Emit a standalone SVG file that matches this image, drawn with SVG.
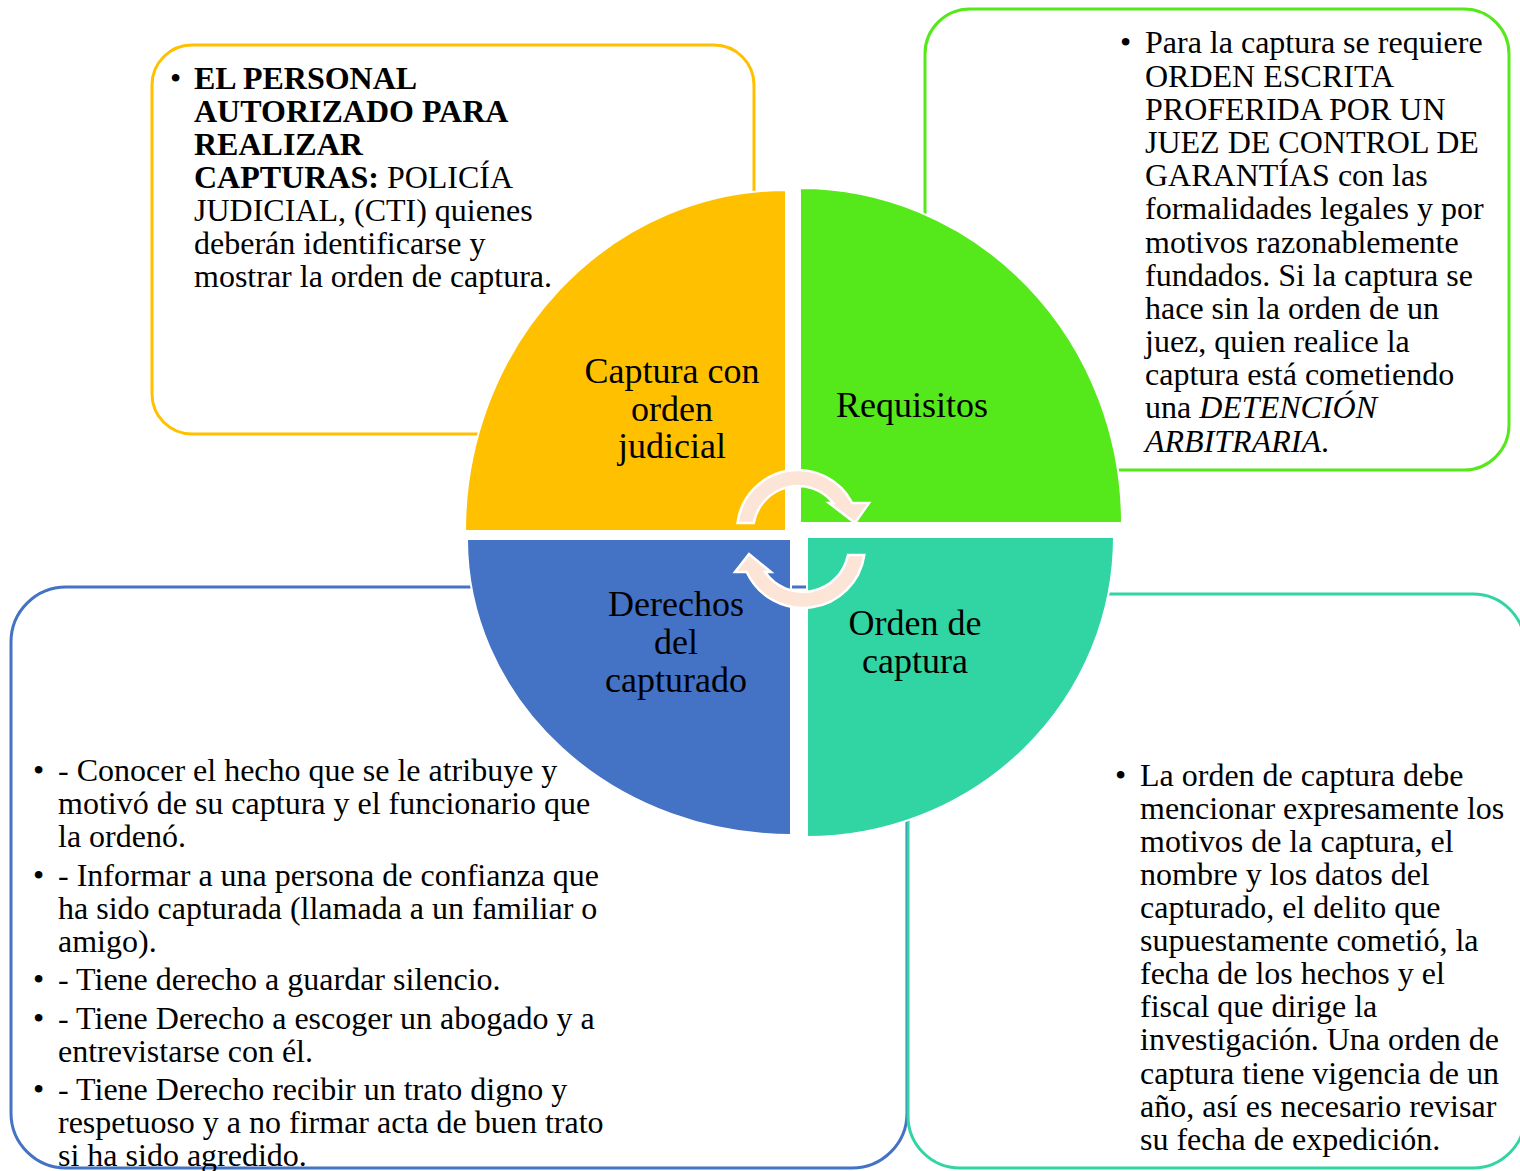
<svg xmlns="http://www.w3.org/2000/svg" width="1520" height="1171" viewBox="0 0 1520 1171">
<style>
  .box { fill: #FFFFFF; stroke-width: 3; }
  .q { stroke: #FFFFFF; stroke-width: 2; }
  .t { font-family: "Liberation Serif", "Times New Roman", serif; font-size: 32px; fill: #000000; }
  .lbl { font-family: "Liberation Serif", "Times New Roman", serif; font-size: 36px; fill: #000000; text-anchor: middle; }
  .b { font-weight: bold; }
  .i { font-style: italic; }
  .arr { fill: #FCE4D6; stroke: #FFFFFF; stroke-width: 2.5; stroke-linejoin: miter; }
</style>
<rect width="1520" height="1171" fill="#FFFFFF"/>

<!-- text boxes (drawn beneath the circle) -->
<g id="box-personal">
  <rect class="box" x="152" y="45" width="602" height="389" rx="40" ry="40" stroke="#FFC000"/>
</g>
<g id="box-requisitos">
  <rect class="box" x="925" y="9" width="584" height="461" rx="45" ry="45" stroke="#55E81B"/>
</g>
<g id="box-derechos">
  <rect class="box" x="11" y="587" width="896" height="581" rx="55" ry="55" stroke="#4472C4"/>
</g>
<g id="box-orden">
  <rect class="box" x="908" y="594" width="617" height="574" rx="52" ry="52" stroke="#31D5A3"/>
</g>

<!-- quadrants -->
<g id="node-captura">
  <path class="q" fill="#FFC000" d="M 786,190 L 786,531 L 465,531 A 321 341 0 0 1 786,190 Z"/>
  <text class="lbl" x="672" y="383">Captura con</text>
  <text class="lbl" x="672" y="421">orden</text>
  <text class="lbl" x="672" y="458">judicial</text>
</g>
<g id="node-requisitos">
  <path class="q" fill="#55E81B" d="M 800,188 A 322 335 0 0 1 1122,523 L 800,523 Z"/>
  <text class="lbl" x="912" y="417">Requisitos</text>
</g>
<g id="node-orden">
  <path class="q" fill="#31D5A3" d="M 807,537 L 1114,537 A 307 300 0 0 1 807,837 Z"/>
  <text class="lbl" x="915" y="635">Orden de</text>
  <text class="lbl" x="915" y="673">captura</text>
</g>
<g id="node-derechos">
  <path class="q" fill="#4472C4" d="M 791,539 L 791,835 A 324 296 0 0 1 467,539 Z"/>
  <text class="lbl" x="676" y="616">Derechos</text>
  <text class="lbl" x="676" y="654">del</text>
  <text class="lbl" x="676" y="692">capturado</text>
</g>

<!-- cycle arrows -->
<g id="connectors">
  <path class="arr" d="M 737.5,523 A 61 61 0 0 1 852.2,503 L 869,503 L 855,523 L 829,503 L 833.2,503 A 45 45 0 0 0 753.7,523 Z"/>
  <path class="arr" d="M 864.3,555 A 62 62 0 0 1 746.7,572 L 735,572 L 749,554 L 771,572 L 765,572 A 46 46 0 0 0 848,555 Z"/>
</g>

<!-- box texts -->
<g id="text-personal">
  <text class="t" x="170" y="89">•</text>
  <text class="t b" x="194" y="89">EL PERSONAL</text>
  <text class="t b" x="194" y="122">AUTORIZADO PARA</text>
  <text class="t b" x="194" y="155">REALIZAR</text>
  <text class="t" x="194" y="188"><tspan class="b">CAPTURAS:</tspan> POLICÍA</text>
  <text class="t" x="194" y="221">JUDICIAL, (CTI) quienes</text>
  <text class="t" x="194" y="254">deberán identificarse y</text>
  <text class="t" x="194" y="287">mostrar la orden de captura.</text>
</g>
<g id="text-requisitos">
  <text class="t" x="1120" y="53">•</text>
  <text class="t" x="1145" y="53">Para la captura se requiere</text>
  <text class="t" x="1145" y="87">ORDEN ESCRITA</text>
  <text class="t" x="1145" y="120">PROFERIDA POR UN</text>
  <text class="t" x="1145" y="153">JUEZ DE CONTROL DE</text>
  <text class="t" x="1145" y="186">GARANTÍAS con las</text>
  <text class="t" x="1145" y="219">formalidades legales y por</text>
  <text class="t" x="1145" y="253">motivos razonablemente</text>
  <text class="t" x="1145" y="286">fundados. Si la captura se</text>
  <text class="t" x="1145" y="319">hace sin la orden de un</text>
  <text class="t" x="1145" y="352">juez, quien realice la</text>
  <text class="t" x="1145" y="385">captura está cometiendo</text>
  <text class="t" x="1145" y="418">una <tspan class="i">DETENCIÓN</tspan></text>
  <text class="t" x="1145" y="452"><tspan class="i">ARBITRARIA</tspan>.</text>
</g>
<g id="text-derechos">
  <text class="t" x="33" y="781">•</text>
  <text class="t" x="58" y="781">- Conocer el hecho que se le atribuye y</text>
  <text class="t" x="58" y="814">motivó de su captura y el funcionario que</text>
  <text class="t" x="58" y="847">la ordenó.</text>
  <text class="t" x="33" y="886">•</text>
  <text class="t" x="58" y="886">- Informar a una persona de confianza que</text>
  <text class="t" x="58" y="919">ha sido capturada (llamada a un familiar o</text>
  <text class="t" x="58" y="952">amigo).</text>
  <text class="t" x="33" y="990">•</text>
  <text class="t" x="58" y="990">- Tiene derecho a guardar silencio.</text>
  <text class="t" x="33" y="1029">•</text>
  <text class="t" x="58" y="1029">- Tiene Derecho a escoger un abogado y a</text>
  <text class="t" x="58" y="1062">entrevistarse con él.</text>
  <text class="t" x="33" y="1100">•</text>
  <text class="t" x="58" y="1100">- Tiene Derecho recibir un trato digno y</text>
  <text class="t" x="58" y="1133">respetuoso y a no firmar acta de buen trato</text>
  <text class="t" x="58" y="1166">si ha sido agredido.</text>
</g>
<g id="text-orden">
  <text class="t" x="1115" y="786">•</text>
  <text class="t" x="1140" y="786">La orden de captura debe</text>
  <text class="t" x="1140" y="819">mencionar expresamente los</text>
  <text class="t" x="1140" y="852">motivos de la captura, el</text>
  <text class="t" x="1140" y="885">nombre y los datos del</text>
  <text class="t" x="1140" y="918">capturado, el delito que</text>
  <text class="t" x="1140" y="951">supuestamente cometió, la</text>
  <text class="t" x="1140" y="984">fecha de los hechos y el</text>
  <text class="t" x="1140" y="1017">fiscal que dirige la</text>
  <text class="t" x="1140" y="1050">investigación. Una orden de</text>
  <text class="t" x="1140" y="1084">captura tiene vigencia de un</text>
  <text class="t" x="1140" y="1117">año, así es necesario revisar</text>
  <text class="t" x="1140" y="1150">su fecha de expedición.</text>
</g>
</svg>
